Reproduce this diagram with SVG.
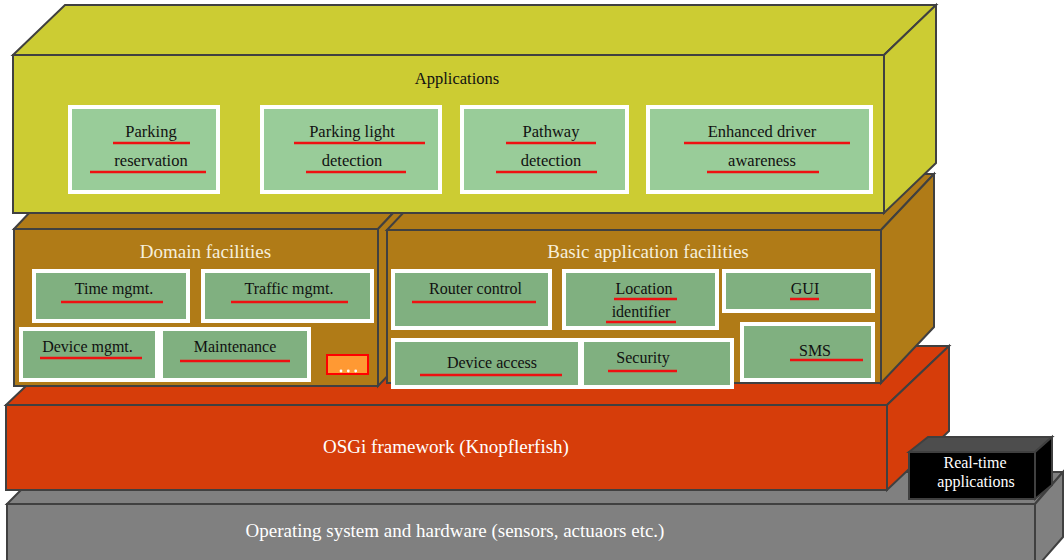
<svg xmlns="http://www.w3.org/2000/svg" width="1064" height="560" viewBox="0 0 1064 560">
<style>
.edge{stroke:#404040;stroke-width:2;stroke-linejoin:miter}
.yel{fill:#cccc33}
.brn{fill:#b07b17}
.red{fill:#d63d0a}
.gry{fill:#808080}
.appbox{fill:#99cc99;stroke:#ffffff;stroke-width:4}
.facbox{fill:#80b080;stroke:#ffffff;stroke-width:4}
.t{font-family:"Liberation Serif","Times New Roman",serif;text-anchor:middle}
.tb{font-size:16.5px;fill:#111111}
.tf{font-size:16px;fill:#111111}
.title{font-size:19px;fill:#f6efdc}
.big{font-size:19px;fill:#ffffff}
.ul{stroke:#ee1111;stroke-width:2.5}
</style>
<rect width="1064" height="560" fill="#ffffff"/>

<g id="os-hardware">
<polygon class="gry edge" points="7,504 39,472 1063,472 1035,504"/>
<polygon class="gry edge" points="1035,504 1063,472 1063,537 1035,569"/>
<rect class="gry edge" x="7" y="504" width="1028" height="65"/>
<text class="t big" x="455" y="537">Operating system and hardware (sensors, actuaors etc.)</text>
</g>

<g id="osgi">
<polygon class="red edge" points="6,405 68,346 949,346 887,405"/>
<polygon class="red edge" points="887,405 949,346 949,431 887,490"/>
<rect class="red edge" x="6" y="405" width="881" height="85"/>
<text class="t big" x="446" y="453">OSGi framework (Knopflerfish)</text>
</g>

<g id="realtime">
<polygon fill="#4d4d4d" class="edge" points="909,452 928,437 1052,437 1035,452"/>
<polygon fill="#000000" class="edge" points="1035,452 1052,437 1052,485 1035,499"/>
<rect fill="#000000" class="edge" x="909" y="452" width="126" height="47"/>
<text class="t" x="975" y="468" font-size="16px" fill="#ffffff">Real-time</text>
<text class="t" x="976" y="487" font-size="16px" fill="#ffffff">applications</text>
</g>

<g id="domain-facilities">
<polygon class="brn edge" points="14,229 67,173 431,173 378,229"/>
<polygon class="brn edge" points="378,229 431,173 431,330 378,386"/>
<rect class="brn edge" x="14" y="229" width="364" height="157"/>
<text class="t title" x="205.5" y="258">Domain facilities</text>
</g>

<g id="basic-facilities">
<polygon class="brn edge" points="387,230 440,174 934,174 881,230"/>
<polygon class="brn edge" points="881,230 934,174 934,327 881,383"/>
<rect class="brn edge" x="387" y="230" width="494" height="153"/>
<text class="t title" x="648" y="258">Basic application facilities</text>
</g>

<g id="applications">
<polygon class="yel edge" points="13,55 65,5 936,5 884,55"/>
<polygon class="yel edge" points="884,55 936,5 936,163 884,213"/>
<rect class="yel edge" x="13" y="55" width="871" height="158"/>
<text class="t tb" x="457" y="84">Applications</text>
</g>

<g id="parking-reservation">
<rect class="appbox" x="70" y="107" width="148" height="85"/>
<text class="t tb" x="151" y="137">Parking</text>
<line class="ul" x1="113" y1="143" x2="190" y2="143"/>
<text class="t tb" x="151" y="166">reservation</text>
<line class="ul" x1="90" y1="172" x2="206" y2="172"/>
</g>

<g id="parking-light-detection">
<rect class="appbox" x="262" y="107" width="178" height="85"/>
<text class="t tb" x="352" y="137">Parking light</text>
<line class="ul" x1="294" y1="143" x2="425" y2="143"/>
<text class="t tb" x="352" y="166">detection</text>
<line class="ul" x1="306" y1="172" x2="406" y2="172"/>
</g>

<g id="pathway-detection">
<rect class="appbox" x="462" y="107" width="165" height="85"/>
<text class="t tb" x="551" y="137">Pathway</text>
<line class="ul" x1="506" y1="143" x2="596" y2="143"/>
<text class="t tb" x="551" y="166">detection</text>
<line class="ul" x1="496" y1="172" x2="597" y2="172"/>
</g>

<g id="enhanced-driver-awareness">
<rect class="appbox" x="648" y="107" width="223" height="85"/>
<text class="t tb" x="762" y="137">Enhanced driver</text>
<line class="ul" x1="684" y1="143" x2="850" y2="143"/>
<text class="t tb" x="762" y="166">awareness</text>
<line class="ul" x1="707" y1="172" x2="819" y2="172"/>
</g>

<g id="time-mgmt">
<rect class="facbox" x="34" y="271" width="154" height="50"/>
<text class="t tf" x="114" y="294">Time mgmt.</text>
<line class="ul" x1="61" y1="302" x2="163" y2="302"/>
</g>

<g id="traffic-mgmt">
<rect class="facbox" x="203" y="271" width="169" height="50"/>
<text class="t tf" x="289" y="294">Traffic mgmt.</text>
<line class="ul" x1="231" y1="302" x2="348" y2="302"/>
</g>

<g id="device-mgmt">
<rect class="facbox" x="21" y="329" width="136" height="51"/>
<text class="t tf" x="87.5" y="352">Device mgmt.</text>
<line class="ul" x1="40" y1="358" x2="142" y2="358"/>
</g>

<g id="maintenance">
<rect class="facbox" x="161" y="329" width="148" height="51"/>
<text class="t tf" x="235" y="352">Maintenance</text>
<line class="ul" x1="180" y1="361" x2="290" y2="361"/>
</g>

<g id="more">
<rect x="327" y="355" width="41" height="19" fill="#ff9933" stroke="#ff0000" stroke-width="2"/>
<circle cx="341" cy="371" r="1.4" fill="#ffffff"/>
<circle cx="348.3" cy="371" r="1.4" fill="#ffffff"/>
<circle cx="355.7" cy="371" r="1.4" fill="#ffffff"/>
</g>

<g id="router-control">
<rect class="facbox" x="393" y="271" width="157" height="57"/>
<text class="t tf" x="475.5" y="294">Router control</text>
<line class="ul" x1="412" y1="302" x2="536" y2="302"/>
</g>

<g id="location-identifier">
<rect class="facbox" x="564" y="271" width="153" height="57"/>
<text class="t tf" x="644" y="294">Location</text>
<line class="ul" x1="614" y1="299" x2="677" y2="299"/>
<text class="t tf" x="641" y="317">identifier</text>
<line class="ul" x1="606" y1="322" x2="676" y2="322"/>
</g>

<g id="gui">
<rect class="facbox" x="724" y="271" width="149" height="40"/>
<text class="t tf" x="805" y="294">GUI</text>
<line class="ul" x1="790" y1="299" x2="819" y2="299"/>
</g>

<g id="sms">
<rect class="facbox" x="742" y="324" width="131" height="56"/>
<text class="t tf" x="815" y="356">SMS</text>
<line class="ul" x1="790" y1="360" x2="863" y2="360"/>
</g>

<g id="device-access">
<rect class="facbox" x="393" y="340" width="187" height="47"/>
<text class="t tf" x="492" y="368">Device access</text>
<line class="ul" x1="420" y1="375" x2="562" y2="375"/>
</g>

<g id="security">
<rect class="facbox" x="582" y="340" width="150" height="47"/>
<text class="t tf" x="643" y="363">Security</text>
<line class="ul" x1="608" y1="371" x2="677" y2="371"/>
</g>

<g id="connectors"/>
</svg>
